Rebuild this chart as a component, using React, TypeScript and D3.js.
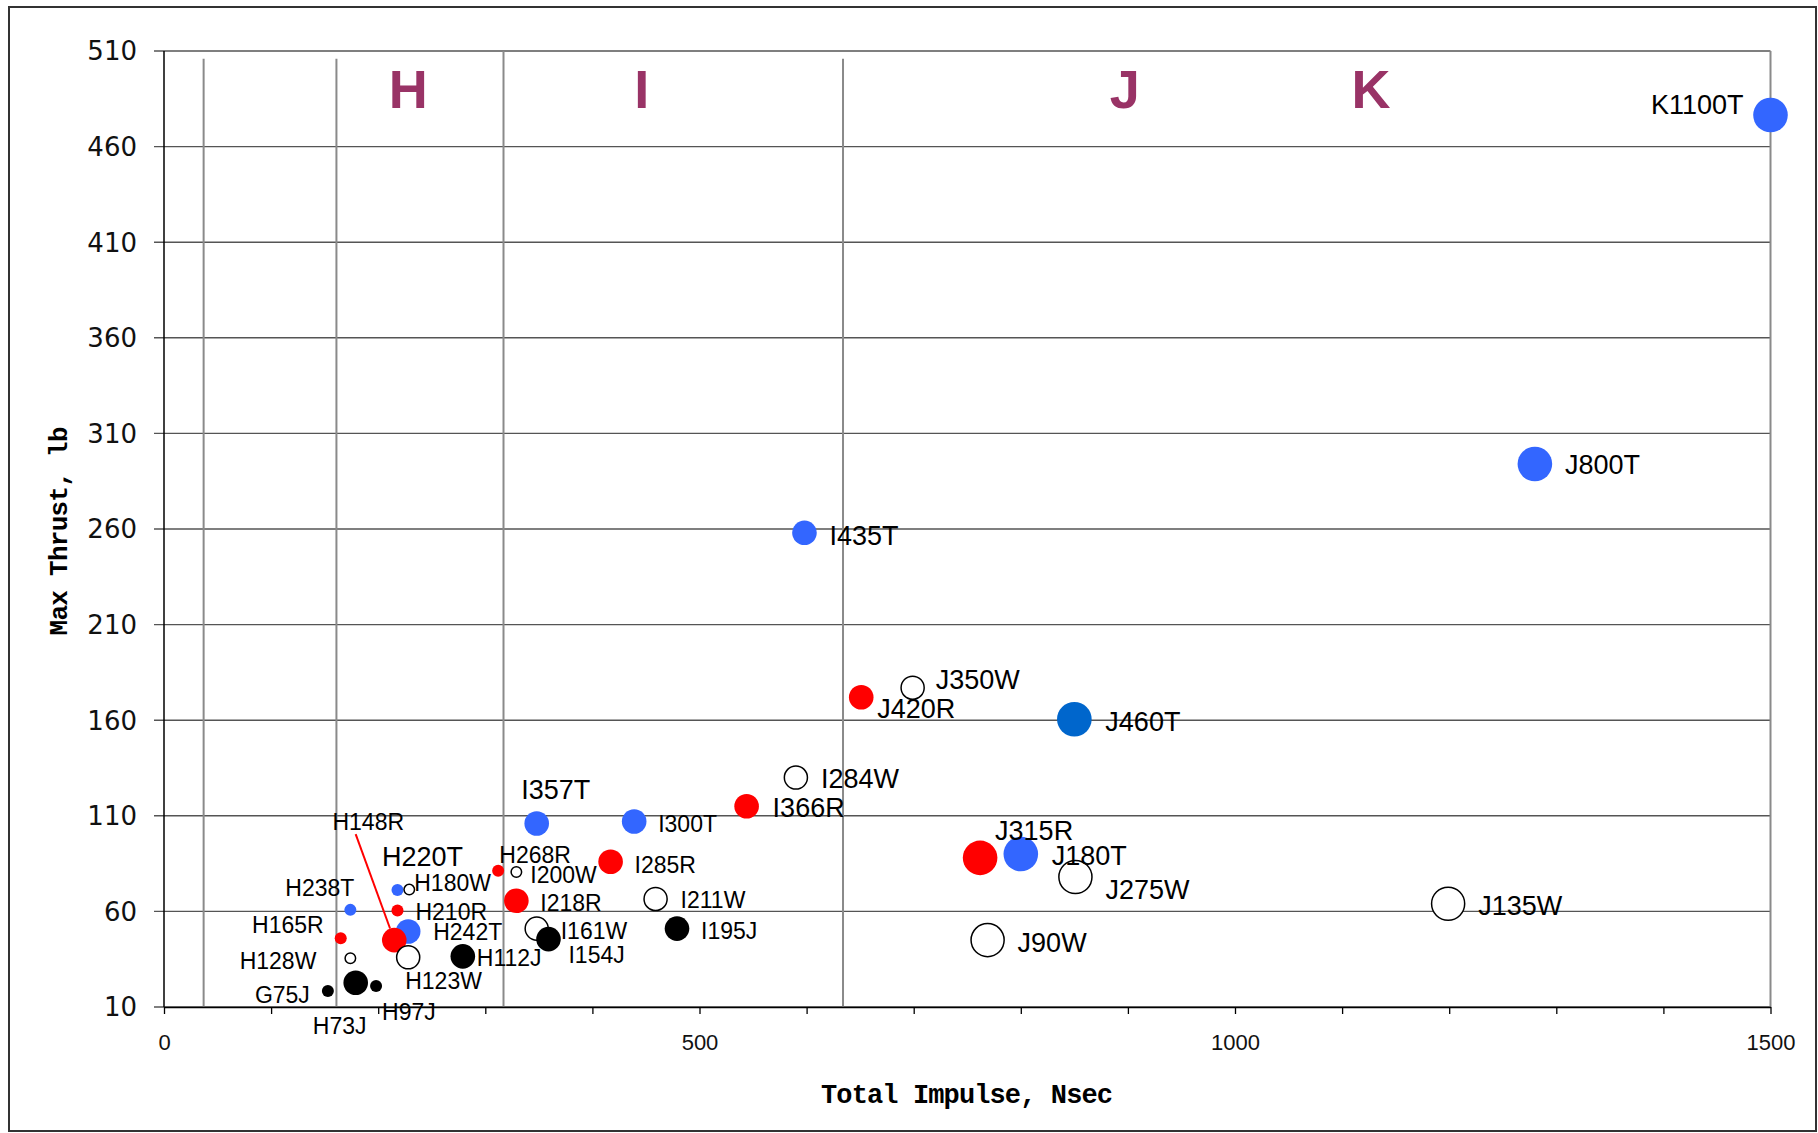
import React, { useEffect, useRef } from 'react';
import * as d3 from 'd3';

// motor data
const motorNames = ['K1100T', 'J800T', 'I435T', 'J420R', 'J350W', 'J460T', 'I284W', 'I366R', 'I357T', 'I300T',
  'J315R', 'J180T', 'J275W', 'J135W', 'J90W', 'I285R', 'H268R', 'I200W', 'I218R', 'I211W',
  'I161W', 'I154J', 'I195J', 'H112J', 'H242T', 'H148R', 'H123W', 'H220T', 'H180W', 'H210R',
  'H238T', 'H165R', 'H128W', 'H73J', 'H97J', 'G75J'];
const totalImpulse = [1500, 1280, 598, 651, 699, 850, 590, 544, 348, 439,
  762, 800, 851, 1199, 769, 417, 312, 329, 329, 459,
  348, 359, 479, 279, 228, 215, 228, 218, 229, 218,
  174, 165, 174, 179, 198, 153];
const maxThrust = [476.5, 294, 258, 172, 177, 160.5, 130, 115, 106, 107,
  88, 90, 78, 64, 45, 86, 81.3, 80.6, 65.6, 66.5,
  51, 45.5, 51, 36.5, 49.5, 45, 36, 71.2, 71.4, 60.5,
  60.8, 46, 35.5, 22.7, 21, 18.4];
// propellant family (T blue, T2 dark blue, R red, W white, J black)
const propellant = ['T', 'T', 'T', 'R', 'W', 'T2', 'W', 'R', 'T', 'T',
  'R', 'T', 'W', 'W', 'W', 'R', 'R', 'W', 'R', 'W',
  'W', 'J', 'J', 'J', 'T', 'R', 'W', 'T', 'W', 'R',
  'T', 'R', 'W', 'J', 'J', 'J'];
// case size: S small, M medium, L large
const caseSize = ['L', 'L', 'M', 'M', 'M', 'L', 'M', 'M', 'M', 'M',
  'L', 'L', 'L', 'L', 'L', 'M', 'S', 'S', 'M', 'M',
  'M', 'M', 'M', 'M', 'M', 'M', 'M', 'S', 'S', 'S',
  'S', 'S', 'S', 'M', 'S', 'S'];

const classBounds = [37, 161, 317, 634];
const classLetters = ['H', 'I', 'J', 'K'];
const classLetterAt = [228, 446, 897, 1127];

const yTicks = d3.range(10, 511, 50);
const xTicks = d3.range(0, 1501, 100);

// label placement: anchor, dx, dy (px from point centre)
const labelPlace: Record<string, [string, number, number]> = {
  K1100T: ['end', -27, -11], J800T: ['start', 30, 0], I435T: ['start', 25, 2], J420R: ['start', 16, 11],
  J350W: ['start', 23, -8], J460T: ['start', 31, 2], I284W: ['start', 25, 1], I366R: ['start', 26, 1],
  I357T: ['middle', 19, -34], I300T: ['start', 24, 2], J315R: ['middle', 54, -28], J180T: ['start', 31, 1],
  J275W: ['start', 30, 12], J135W: ['start', 30, 2], J90W: ['start', 30, 2], I285R: ['start', 24, 3],
  H268R: ['middle', 37, -16], I200W: ['start', 14, 3], I218R: ['start', 24, 2], I211W: ['start', 25, 1],
  I161W: ['start', 24, 2], I154J: ['start', 20, 16], I195J: ['start', 24, 2], H112J: ['start', 14, 1],
  H242T: ['start', 25, 0], H148R: ['middle', -26, -118], H123W: ['start', -3, 23], H220T: ['middle', 25, -34],
  H180W: ['start', 5, -7], H210R: ['start', 18, 1], H238T: ['end', 4, -22], H165R: ['end', -17, -13],
  H128W: ['end', -34, 2], H73J: ['middle', -16, 43], H97J: ['start', 6, 26], G75J: ['end', -18, 4],
};
const bigLabels = ['K1100T', 'J800T', 'I435T', 'J420R', 'J350W', 'J460T', 'I284W', 'I366R', 'I357T',
  'J315R', 'J180T', 'J275W', 'J135W', 'J90W', 'H220T'];

export default function App() {
  const ref = useRef<SVGSVGElement>(null);

  useEffect(() => {
    const svgWidth = 1818, svgHeight = 1133;
    const margin = { top: 51, right: 47.5, bottom: 126, left: 164 };
    const width = svgWidth - margin.left - margin.right;
    const height = svgHeight - margin.top - margin.bottom;

    const root = d3.select(ref.current);
    root.selectAll('*').remove();
    root.attr('width', svgWidth).attr('height', svgHeight);

    // outer frame
    root.append('rect')
      .attr('x', 9).attr('y', 7)
      .attr('width', 1807).attr('height', 1124)
      .attr('fill', 'none').attr('stroke', '#333').attr('stroke-width', 2);

    const svg = root.append('g').attr('transform', `translate(${margin.left},${margin.top})`);

    const x = d3.scaleLinear().domain([0, 1500]).range([0, width]);
    const y = d3.scaleLinear().domain([10, 510]).range([height, 0]);

    // horizontal grid with outside ticks
    svg.append('g')
      .selectAll('line')
      .data(yTicks)
      .join('line')
      .attr('x1', -10).attr('x2', width)
      .attr('y1', d => y(d)).attr('y2', d => y(d))
      .attr('stroke', '#555').attr('stroke-width', 1.4);

    // y tick labels
    svg.append('g')
      .selectAll('text')
      .data(yTicks)
      .join('text')
      .attr('x', -27).attr('y', d => y(d))
      .attr('dy', '0.36em')
      .attr('text-anchor', 'end')
      .style('font-family', '"DejaVu Sans", sans-serif')
      .style('font-size', '26px')
      .attr('fill', '#111')
      .text(d => d);

    // class boundary lines
    svg.append('g')
      .selectAll('line')
      .data(classBounds)
      .join('line')
      .attr('x1', d => x(d)).attr('x2', d => x(d))
      .attr('y1', d => y(d === 317 ? 510 : 506)).attr('y2', y(10))
      .attr('stroke', '#8a8a8a').attr('stroke-width', 2);

    // right border
    svg.append('line')
      .attr('x1', x(1500)).attr('x2', x(1500))
      .attr('y1', y(510)).attr('y2', y(10))
      .attr('stroke', '#8a8a8a').attr('stroke-width', 2);

    // y axis line
    svg.append('line')
      .attr('x1', 0).attr('x2', 0)
      .attr('y1', y(510)).attr('y2', y(10))
      .attr('stroke', '#000').attr('stroke-width', 1.5);

    // x axis
    const xAxis = svg.append('g')
      .attr('transform', `translate(0,${height})`)
      .call(d3.axisBottom(x)
        .tickValues(xTicks)
        .tickSize(7)
        .tickSizeOuter(0)
        .tickPadding(20)
        .tickFormat(d => (+d % 500 === 0 ? String(d) : '')));
    xAxis.select('.domain').attr('stroke', '#000').attr('stroke-width', 1.5);
    xAxis.selectAll('.tick line').attr('stroke', '#000').attr('stroke-width', 1.3);
    xAxis.selectAll('.tick text')
      .attr('fill', '#111')
      .style('font-family', '"Liberation Sans", Arial, sans-serif')
      .style('font-size', '22px');

    // class letters
    svg.append('g')
      .selectAll('text')
      .data(classLetters)
      .join('text')
      .attr('x', (_, i) => x(classLetterAt[i]))
      .attr('y', 57)
      .attr('text-anchor', 'middle')
      .attr('fill', '#993366')
      .style('font-family', '"Liberation Sans", Arial, sans-serif')
      .style('font-weight', 'bold')
      .style('font-size', '54px')
      .text(d => d);

    const radius = d3.scaleOrdinal<string, number>().domain(['S', 'M', 'L']).range([6, 12.3, 17.3]);
    const fill = d3.scaleOrdinal<string, string>()
      .domain(['T', 'T2', 'R', 'W', 'J'])
      .range(['#3366ff', '#0066cc', '#ff0000', '#ffffff', '#000000']);

    const idx = d3.range(motorNames.length);

    // leader line for H148R
    idx.filter(i => motorNames[i] === 'H148R').forEach(i => {
      const cx = x(totalImpulse[i]), cy = y(maxThrust[i]);
      const sx = cx - 38.6, sy = cy - 106;
      const len = Math.hypot(cx - sx, cy - sy);
      const r = radius(caseSize[i]);
      svg.append('line')
        .attr('x1', sx).attr('y1', sy)
        .attr('x2', cx - (cx - sx) / len * r).attr('y2', cy - (cy - sy) / len * r)
        .attr('stroke', '#ff0000').attr('stroke-width', 2);
    });

    // points
    svg.append('g')
      .selectAll('circle')
      .data(idx)
      .join('circle')
      .attr('cx', i => x(totalImpulse[i]))
      .attr('cy', i => y(maxThrust[i]))
      .attr('r', i => radius(caseSize[i]) - (propellant[i] === 'W' ? 0.75 : 0))
      .attr('fill', i => fill(propellant[i]))
      .attr('stroke', i => (propellant[i] === 'W' ? '#000' : 'none'))
      .attr('stroke-width', 1.5);

    // point labels
    svg.append('g')
      .selectAll('text')
      .data(idx)
      .join('text')
      .each(function (i) {
        const name = motorNames[i];
        const [anchor, dx, dy] = labelPlace[name];
        const fs = bigLabels.includes(name) ? 27 : 23;
        d3.select(this)
          .attr('x', x(totalImpulse[i]) + dx)
          .attr('y', y(maxThrust[i]) + dy + fs * 0.36)
          .attr('text-anchor', anchor)
          .style('font-size', `${fs}px`);
      })
      .style('font-family', '"Liberation Sans", Arial, sans-serif')
      .attr('fill', '#000')
      .text(i => motorNames[i]);

    // axis titles
    root.append('text')
      .attr('x', 967).attr('y', 1103)
      .attr('text-anchor', 'middle')
      .attr('textLength', 292)
      .attr('lengthAdjust', 'spacing')
      .style('font-family', '"Liberation Mono", "Courier New", monospace')
      .style('font-weight', 'bold')
      .style('font-size', '27px')
      .text('Total Impulse, Nsec');

    root.append('text')
      .attr('transform', 'translate(67,531) rotate(-90)')
      .attr('text-anchor', 'middle')
      .attr('textLength', 209)
      .attr('lengthAdjust', 'spacing')
      .style('font-family', '"Liberation Mono", "Courier New", monospace')
      .style('font-weight', 'bold')
      .style('font-size', '26px')
      .text('Max Thrust, lb');
  }, []);

  return (
    <div style={{ position: 'absolute', left: 0, top: 0 }}>
      <svg ref={ref} />
    </div>
  );
}
